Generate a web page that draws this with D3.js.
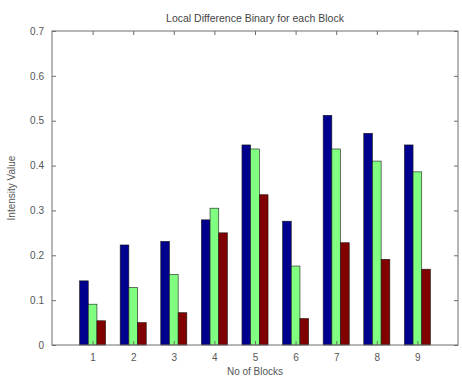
<!DOCTYPE html>
<html>
<head>
<meta charset="utf-8">
<script src="https://cdn.jsdelivr.net/npm/d3@7"></script>
<style>
body { margin: 0; background: #fff; }
svg { display: block; }
text { font-family: "Liberation Sans", Arial, sans-serif; }
</style>
</head>
<body>
<svg width="462" height="378"></svg>
<script>
// Local Difference Binary for each Block - grouped bars
const blocks = [1, 2, 3, 4, 5, 6, 7, 8, 9]
const seriesA = [0.143, 0.223, 0.231, 0.279, 0.446, 0.276, 0.512, 0.472, 0.446]
const seriesB = [0.091, 0.128, 0.157, 0.305, 0.437, 0.176, 0.437, 0.410, 0.386]
const seriesC = [0.054, 0.050, 0.072, 0.250, 0.335, 0.059, 0.228, 0.191, 0.169]
const yTicks = [0, 0.1, 0.2, 0.3, 0.4, 0.5, 0.6, 0.7]
const colors = ['#00008f', '#80ff80', '#800000']

const margin = {top: 31, right: 4, bottom: 33, left: 52}
const svg = d3.select('svg')
const W = +svg.attr('width') - margin.left - margin.right
const H = +svg.attr('height') - margin.top - margin.bottom

// cut-off caption from the page above the figure (only descenders show)
const cap = svg.append('text')
	.attr('y', -5.5)
	.style('font-family', '"Liberation Serif", "Times New Roman", serif')
	.style('font-weight', 'bold')
	.style('font-size', '20px')
	.attr('fill', '#000')
cap.append('tspan').attr('x', 89).text('Figure 5:')
cap.append('tspan').attr('x', 286).text('Histogram')
cap.append('tspan').attr('x', 385).text('Intensity')

const g = svg.append('g').attr('transform', `translate(${margin.left},${margin.top})`)

const x = d3.scaleLinear().domain([0, 10]).range([0, W])
const y = d3.scaleLinear().domain([0, 0.7]).range([H, 0])

const bw = 0.214
const data = [seriesA, seriesB, seriesC]
data.forEach(function(vals, k) {
	g.selectAll('rect.s' + k).data(vals).enter().append('rect')
		.attr('class', 's' + k)
		.attr('x', (d, i) => x(blocks[i] + (k - 1.5) * bw))
		.attr('width', x(bw) - x(0))
		.attr('y', d => y(d))
		.attr('height', d => y(0) - y(d))
		.attr('fill', colors[k])
		.attr('stroke', '#1a1a1a')
		.attr('stroke-width', 0.6)
})

// box + ticks (matlab style, ticks inside on all sides)
const axCol = '#6e6e6e'
g.append('rect').attr('width', W).attr('height', H)
	.attr('fill', 'none').attr('stroke', axCol).attr('stroke-width', 1)

const xb = g.append('g').attr('transform', `translate(0,${H})`)
	.call(d3.axisBottom(x).tickValues(blocks).tickSizeInner(-4).tickSizeOuter(0).tickPadding(9))
const xt = g.append('g')
	.call(d3.axisTop(x).tickValues(blocks).tickSizeInner(-4).tickSizeOuter(0).tickFormat(''))
const yl = g.append('g')
	.call(d3.axisLeft(y).tickValues(yTicks).tickSizeInner(-4).tickSizeOuter(0).tickPadding(8)
		.tickFormat(d => d === 0 ? '0' : d3.format('.1f')(d)))
const yr = g.append('g').attr('transform', `translate(${W},0)`)
	.call(d3.axisRight(y).tickValues(yTicks).tickSizeInner(-4).tickSizeOuter(0).tickFormat(''))

;[xb, xt, yl, yr].forEach(function(a) {
	a.select('.domain').remove()
	a.selectAll('line').attr('stroke', axCol)
	a.selectAll('text').attr('fill', '#555').style('font-size', '10px')
		.style('font-family', '"Liberation Sans", Arial, sans-serif')
})

svg.append('text')
	.attr('x', margin.left + W / 2).attr('y', 22)
	.attr('text-anchor', 'middle')
	.attr('fill', '#444').style('font-size', '10.5px')
	.text('Local Difference Binary for each Block')

svg.append('text')
	.attr('x', margin.left + W / 2).attr('y', 375)
	.attr('text-anchor', 'middle')
	.attr('fill', '#555').style('font-size', '10px')
	.text('No of Blocks')

svg.append('text')
	.attr('transform', `translate(15,${margin.top + H / 2}) rotate(-90)`)
	.attr('text-anchor', 'middle')
	.attr('fill', '#555').style('font-size', '10px')
	.text('Intensity Value')
</script>
</body>
</html>
